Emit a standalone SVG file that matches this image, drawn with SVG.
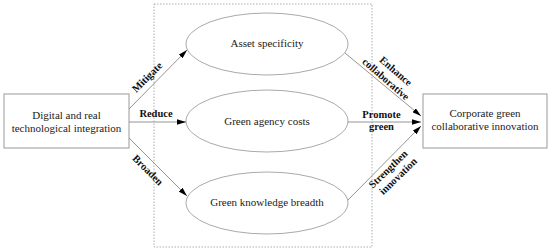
<svg xmlns="http://www.w3.org/2000/svg" width="550" height="251" viewBox="0 0 550 251">
<style>
.box{fill:#fff;stroke:#999;stroke-width:1}
.ell{fill:#fff;stroke:#aaa;stroke-width:1}
.frame{fill:none;stroke:#999;stroke-width:0.8;stroke-dasharray:1.5 1.5}
.con{fill:none;stroke:#888;stroke-width:0.9;marker-end:url(#ah)}
.t{font-family:"Liberation Serif",serif;font-size:11px;fill:#222;text-anchor:middle}
.l{font-family:"Liberation Serif",serif;font-size:10.5px;font-weight:bold;fill:#111;text-anchor:middle}
</style>
<defs>
<marker id="ah" viewBox="0 0 10 6" refX="10" refY="3" markerWidth="9" markerHeight="5.4" markerUnits="userSpaceOnUse" orient="auto">
<path d="M0,0 L10,3 L0,6 Z" fill="#000"/>
</marker>
</defs>
<rect width="550" height="251" fill="#fff"/>
<rect class="frame" x="154" y="4" width="218" height="243"/>
<g id="n-digital">
<rect class="box" x="4" y="94" width="125" height="54"/>
<text class="t" x="66.5" y="119">Digital and real</text>
<text class="t" x="66.5" y="132">technological integration</text>
</g>
<g id="n-asset">
<ellipse class="ell" cx="267" cy="44" rx="81" ry="31"/>
<text class="t" x="267" y="47">Asset specificity</text>
</g>
<g id="n-agency">
<ellipse class="ell" cx="267" cy="121" rx="81" ry="31"/>
<text class="t" x="267" y="125">Green agency costs</text>
</g>
<g id="n-knowledge">
<ellipse class="ell" cx="267" cy="203" rx="81" ry="31"/>
<text class="t" x="267" y="206">Green knowledge breadth</text>
</g>
<g id="n-corporate">
<rect class="box" x="423" y="94" width="124" height="54"/>
<text class="t" x="485" y="117">Corporate green</text>
<text class="t" x="485" y="130">collaborative innovation</text>
</g>
<g id="connectors">
<path class="con" d="M129,109 L187,50"/>
<path class="con" d="M129,122 L186,122"/>
<path class="con" d="M129,138 L187,196"/>
<path class="con" d="M345,53 L421,116"/>
<path class="con" d="M348,122 L421,122"/>
<path class="con" d="M348,200 L421,126"/>
<text class="l" transform="translate(147,77) rotate(-45)" dy="0.35em">Mitigate</text>
<text class="l" x="156" y="117">Reduce</text>
<text class="l" transform="translate(148,170) rotate(45)" dy="0.35em">Broaden</text>
<text class="l" transform="translate(396,71) rotate(41)" dy="0.35em">Enhance</text>
<text class="l" transform="translate(386,79) rotate(41)" dy="0.35em">collaborative</text>
<text class="l" x="381.5" y="118">Promote</text>
<text class="l" x="381.5" y="130">green</text>
<text class="l" transform="translate(388,169) rotate(-44)" dy="0.35em">Strengthen</text>
<text class="l" transform="translate(398,176) rotate(-44)" dy="0.35em">innovation</text>
</g>
</svg>
